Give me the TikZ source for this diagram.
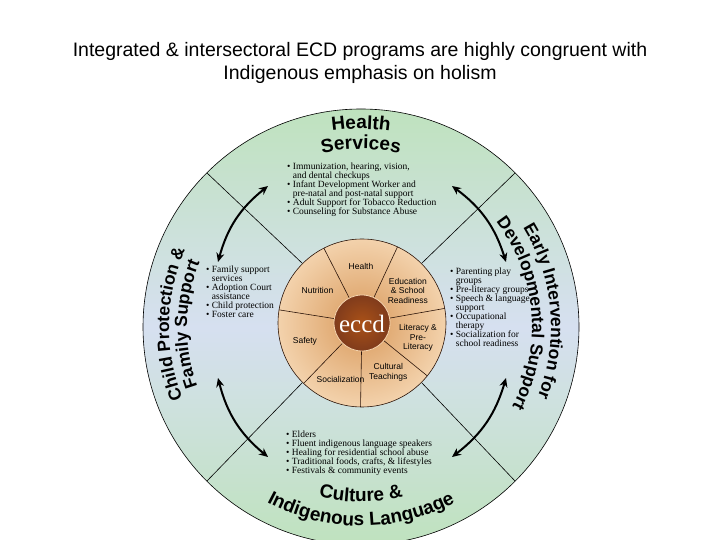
\documentclass[tikz,border=0pt]{standalone}
\usepackage{fontspec}
\setmainfont{Liberation Serif}
\newfontfamily\arial{Liberation Sans}
\newfontfamily\lab{Liberation Sans Bold}
\usetikzlibrary{decorations.text,arrows.meta,calc}
\definecolor{ringblue}{HTML}{D6E0F0}
\definecolor{ringgreen}{HTML}{BFE2BE}
\definecolor{tanin}{HTML}{D99A5C}
\definecolor{tanout}{HTML}{F3D2AC}
\definecolor{brown}{HTML}{8E421F}
\begin{document}
\begin{tikzpicture}[x=1pt,y=1pt,
  lst/.style={font=\fontsize{9.5}{9}\selectfont, align=left, inner sep=0pt, anchor=north west},
  sect/.style={font=\arial\fontsize{8.5}{9.5}\selectfont, align=center},
  arr/.style={line width=2pt,{Stealth[length=9pt,width=8pt]}-{Stealth[length=9pt,width=8pt]}},
  curv/.style={decorate,decoration={text along path,text align=center,
     text={|\lab\fontsize{19}{19}\selectfont|#1}}},
  curvs/.style={decorate,decoration={text along path,text align=center,
     text={|\lab\fontsize{17.5}{17.5}\selectfont|#1}}}]
\useasboundingbox (0,0) rectangle (720,540);
\node[font=\arial\fontsize{19.5}{23}\selectfont,align=center] (title) at (360,477)
 {Integrated \& intersectoral ECD programs are highly congruent with\\Indigenous emphasis on holism};
\coordinate (C) at (361,213);
\begin{scope}
\clip (0,0) rectangle (720,540);
\shade[top color=ringgreen,bottom color=ringgreen,middle color=ringblue,draw=black,line width=0.6pt] (C) circle[radius=218];
\end{scope}
\coordinate (W) at (362,217);
\foreach \a in {45,135,225,315}
  \draw[line width=0.6pt] ($(W)+(\a:84)$) -- ($(C)+(\a:218)$);
\shade[inner color=tanin,outer color=tanout,draw=black!70!brown,line width=0.6pt] (W) circle[radius=84];
\foreach \a in {65,117,171,226,269,321,10}
  \draw[black!70!brown,line width=0.6pt] (W) -- ++(\a:84);
\shade[inner color=brown!75!orange,outer color=brown!90!black,draw=tanout,line width=0.8pt] (W) circle[radius=28];
\node[text=white,font=\fontsize{25}{25}\selectfont] (eccd) at (362,216) {eccd};
\node[sect] (s1) at ($(W)+(91:57)$) {Health};
\node[sect] (s2) at ($(W)+(144:55)$) {Nutrition};
\node[sect] (s3) at ($(W)+(198:60)$) {Safety};
\node[sect] (s4) at ($(W)+(249:60)$) {Socialization};
\node[sect] (s5) at ($(W)+(298:56)$) {Cultural\\Teachings};
\node[sect] (s6) at ($(W)+(345:58)$) {Literacy \&\\Pre-\\Literacy};
\node[sect] (s7) at ($(W)+(35:56)$) {Education\\\& School\\Readiness};
\node[lst] (L1) at (287,377) {\textbullet\ Immunization, hearing, vision,\\\phantom{\textbullet\ }and dental checkups\\
\textbullet\ Infant Development Worker and\\\phantom{\textbullet\ }pre-natal and post-natal support\\
\textbullet\ Adult Support for Tobacco Reduction\\\textbullet\ Counseling for Substance Abuse};
\node[lst] (L2) at (206,274) {\textbullet\ Family support\\\phantom{\textbullet\ }services\\\textbullet\ Adoption Court\\\phantom{\textbullet\ }assistance\\
\textbullet\ Child protection\\\textbullet\ Foster care};
\node[lst] (L3) at (450,272) {\textbullet\ Parenting play\\\phantom{\textbullet\ }groups\\\textbullet\ Pre-literacy groups\\
\textbullet\ Speech \& language\\\phantom{\textbullet\ }support\\\textbullet\ Occupational\\\phantom{\textbullet\ }therapy\\
\textbullet\ Socialization for\\\phantom{\textbullet\ }school readiness};
\node[lst] (L4) at (286,109) {\textbullet\ Elders\\\textbullet\ Fluent indigenous language speakers\\
\textbullet\ Healing for residential school abuse\\\textbullet\ Traditional foods, crafts, \& lifestyles\\
\textbullet\ Festivals \& community events};
\coordinate (a1) at (268,354); \coordinate (a2) at (218,278);
\coordinate (a3) at (218,162); \coordinate (a4) at (268,83);
\coordinate (a5) at (452,354); \coordinate (a6) at (506,278);
\coordinate (a7) at (506,162); \coordinate (a8) at (452,83);
\draw[arr] (a2) to[bend left=18] (a1);
\draw[arr] (a3) to[bend right=18] (a4);
\draw[arr] (a5) to[bend left=18] (a6);
\draw[arr] (a8) to[bend right=18] (a7);
\path[curv={Health}] ($(C)+(125:198)$) arc[start angle=125,end angle=55,radius=198];
\path[curv={Services}] ($(C)+(125:178)$) arc[start angle=125,end angle=55,radius=178];
\path[curvs={Child Protection {\&}}] ($(C)+(235:192)$) arc[start angle=235,end angle=123,radius=192];
\path[curvs={Family Support}] ($(C)+(235:174)$) arc[start angle=235,end angle=123,radius=174];
\path[curvs={Early Intervention for}] ($(C)+(60:190)$) arc[start angle=60,end angle=-50,radius=190];
\path[curvs={Developmental Support}] ($(C)+(60:171)$) arc[start angle=60,end angle=-50,radius=171];
\path[curv={Culture {\&}}] ($(C)+(240:175)$) arc[start angle=240,end angle=300,radius=175];
\path[curv={Indigenous Language}] ($(C)+(225:199)$) arc[start angle=225,end angle=315,radius=199];
\end{tikzpicture}
\end{document}
